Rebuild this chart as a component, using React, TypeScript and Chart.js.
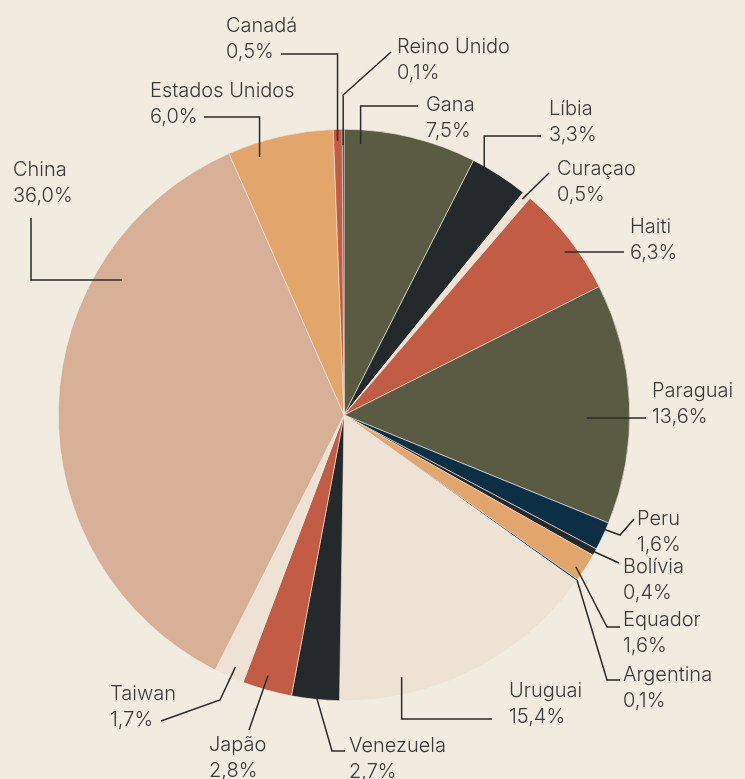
import React, { useEffect, useRef } from 'react';
import { Chart, registerables } from 'chart.js';

Chart.register(...registerables);

// ---- Data ----
const countries = [
  'Gana', 'Líbia', 'Curaçao', 'Haiti', 'Paraguai', 'Peru', 'Bolívia', 'Equador',
  'Argentina', 'Uruguai', 'Venezuela', 'Japão', 'Taiwan', 'China', 'Estados Unidos',
  'Canadá', 'Reino Unido',
];
const shares = [7.5, 3.3, 0.5, 6.3, 13.6, 1.6, 0.4, 1.6, 0.1, 15.4, 2.7, 2.8, 1.7, 36.0, 6.0, 0.5, 0.1];
const shareLabels = shares.map((v) => v.toFixed(1).replace('.', ',') + '%');

// ---- Styles ----
const OLIVE = '#5a5b43';
const CHARCOAL = '#24292c';
const LIGHT = '#ede2d4';
const RED = '#c25c45';
const NAVY = '#0b2f45';
const ORANGE = '#e2a56b';
const TAN = '#d8af97';
const BG = '#f2ebdf';

const sliceColors = [
  OLIVE, CHARCOAL, LIGHT, RED, OLIVE, NAVY, CHARCOAL, ORANGE, NAVY, LIGHT,
  CHARCOAL, RED, LIGHT, TAN, ORANGE, RED, NAVY,
];

// Label layout: anchor = fraction t along the slice's angle, r = fraction of radius.
// path points & text position are offsets from the pie centre (null = keep previous coord).
type Layout = { t: number; r: number; path: [number | null, number | null][]; text: [number, number] };
const labelLayout: Layout[] = [
  { t: 0.13, r: 0.95, path: [[null, -309], [74, null]], text: [82, -310] }, // Gana
  { t: 0.26, r: 0.98, path: [[null, -279], [197, null]], text: [205, -306] }, // Líbia
  { t: 0.4, r: 0.98, path: [[205, -242]], text: [213, -246] }, // Curaçao
  { t: 0.57, r: 0.96, path: [[280, null]], text: [286, -188] }, // Haiti
  { t: 0.56, r: 0.85, path: [[302, null]], text: [308, -24] }, // Paraguai
  { t: 0.29, r: 0.95, path: [[276, 120], [290, 104]], text: [293, 104] }, // Peru
  { t: 0.5, r: 0.99, path: [[275, 148]], text: [279, 152] }, // Bolívia
  { t: 0.66, r: 0.97, path: [[263, 212], [276, null]], text: [279, 205] }, // Equador
  { t: 0.5, r: 1.0, path: [[263, 265], [276, null]], text: [279, 260] }, // Argentina
  { t: 0.76, r: 0.94, path: [[null, 304], [148, null]], text: [165, 276] }, // Uruguai
  { t: 0.56, r: 0.96, path: [[-12, 336], [1, null]], text: [5, 331] }, // Venezuela
  { t: 0.56, r: 0.95, path: [[-95, 315]], text: [-135, 330] }, // Japão
  { t: 0.43, r: 0.96, path: [[-124, 285], [-183, 306]], text: [-234, 279] }, // Taiwan
  { t: 0.73, r: 0.91, path: [[-313, null], [null, -197]], text: [-331, -245] }, // China
  { t: 0.26, r: 0.95, path: [[null, -298], [-140, null]], text: [-194, -324] }, // Estados Unidos
  { t: 0.45, r: 0.96, path: [[null, -361], [-63, null]], text: [-118, -389] }, // Canadá
  { t: 0.5, r: 0.945, path: [[null, -320], [47, -363]], text: [53, -368] }, // Reino Unido
];

const FONT = '300 20px Inter, "Noto Sans", sans-serif';
const TEXT_COLOR = '#3a3a3a';
const LINE_COLOR = '#2a2a2a';
const LINE_GAP = 26;

const labelPlugin = {
  id: 'leaderLabels',
  afterDatasetsDraw(chart: any) {
    const meta = chart.getDatasetMeta(0);
    const ctx: CanvasRenderingContext2D = chart.ctx;
    ctx.save();
    meta.data.forEach((arc: any, i: number) => {
      const lay = labelLayout[i];
      if (!lay) return;
      const p = arc.getProps(['x', 'y', 'startAngle', 'endAngle', 'outerRadius'], true);
      const cx = p.x;
      const cy = p.y;
      const ang = p.startAngle + lay.t * (p.endAngle - p.startAngle);
      let px = cx + Math.cos(ang) * lay.r * p.outerRadius;
      let py = cy + Math.sin(ang) * lay.r * p.outerRadius;
      ctx.beginPath();
      ctx.moveTo(px, py);
      lay.path.forEach(([dx, dy]) => {
        px = dx === null ? px : cx + dx;
        py = dy === null ? py : cy + dy;
        ctx.lineTo(px, py);
      });
      ctx.strokeStyle = LINE_COLOR;
      ctx.lineWidth = 1.5;
      ctx.lineJoin = 'miter';
      ctx.stroke();

      ctx.font = FONT;
      ctx.fillStyle = TEXT_COLOR;
      ctx.textAlign = 'left';
      ctx.textBaseline = 'middle';
      const tx = cx + lay.text[0];
      const ty = cy + lay.text[1];
      ctx.fillText(countries[i], tx, ty);
      ctx.fillText(shareLabels[i], tx, ty + LINE_GAP);
    });
    ctx.restore();
  },
};

export default function App() {
  const canvasRef = useRef<HTMLCanvasElement | null>(null);

  useEffect(() => {
    if (!canvasRef.current) return;
    const chart = new Chart(canvasRef.current, {
      type: 'pie',
      data: {
        labels: countries,
        datasets: [
          {
            data: shares,
            backgroundColor: sliceColors,
            borderColor: BG,
            borderWidth: 0.6,
          },
        ],
      },
      options: {
        responsive: false,
        animation: false,
        devicePixelRatio: 1,
        rotation: 0,
        layout: { padding: { left: 58, right: 115, top: 129, bottom: 78 } },
        plugins: {
          legend: { display: false },
          tooltip: { enabled: false },
        },
      },
      plugins: [labelPlugin],
    });
    return () => chart.destroy();
  }, []);

  return (
    <div style={{ position: 'fixed', left: 0, top: 0, width: 745, height: 779, background: BG, overflow: 'hidden' }}>
      <canvas ref={canvasRef} width={745} height={779} style={{ display: 'block', width: 745, height: 779 }} />
    </div>
  );
}
